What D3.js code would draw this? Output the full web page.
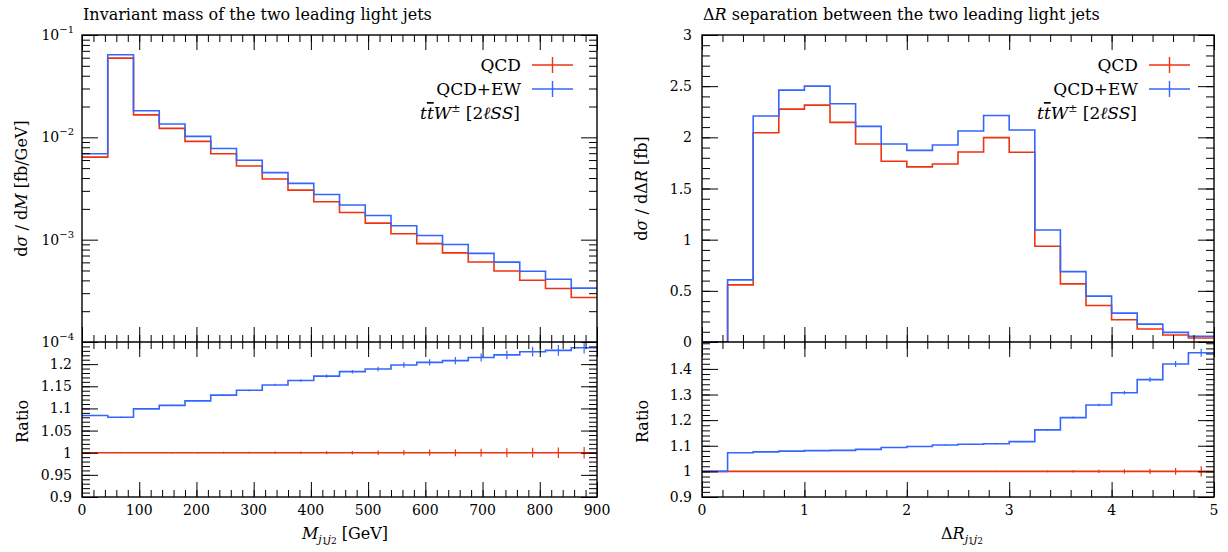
<!DOCTYPE html>
<html>
<head>
<meta charset="utf-8">
<script src="https://cdn.jsdelivr.net/npm/d3@7"></script>
<style>
  body { margin: 0; background: #fff; }
  svg text { font-family: "DejaVu Serif", "Liberation Serif", serif; fill: #000; }
  .tick line { stroke: #000; stroke-width: 1; }
  .bar { text-decoration: overline; }
</style>
</head>
<body>
<svg id="chart" width="1228" height="552"></svg>
<script>
// ---- data: invariant mass of the two leading light jets ----
const massEdges = [0, 45, 90, 135, 180, 225, 270, 315, 360, 405, 450, 495, 540, 585, 630, 675, 720, 765, 810, 855, 900];
const massQCD = [0.0064, 0.0594, 0.01656, 0.01222, 0.00914, 0.0069, 0.00524, 0.00392, 0.00305, 0.00235,
                 0.00184, 0.00145, 0.001143, 0.000914, 0.000743, 0.000604, 0.000494, 0.000401, 0.000333, 0.000272];
const massQCDEW = [0.0069, 0.0641, 0.0182, 0.01352, 0.01021, 0.00779, 0.00598, 0.00452, 0.00355, 0.00276,
                   0.00218, 0.00172, 0.001369, 0.0011, 0.000898, 0.000734, 0.000603, 0.000492, 0.00041, 0.000336];
const massRatioEW = [1.084, 1.080, 1.099, 1.107, 1.117, 1.130, 1.141, 1.153, 1.163, 1.173,
                     1.183, 1.189, 1.198, 1.204, 1.208, 1.215, 1.221, 1.228, 1.231, 1.237];
const massErrQCD = [0.001, 0.001, 0.001, 0.0015, 0.0015, 0.002, 0.002, 0.0025, 0.003, 0.0035,
                    0.004, 0.005, 0.006, 0.007, 0.008, 0.009, 0.010, 0.011, 0.012, 0.013];
const massErrEW = [0.001, 0.001, 0.001, 0.0015, 0.0015, 0.002, 0.002, 0.0025, 0.003, 0.0035,
                   0.004, 0.005, 0.006, 0.007, 0.008, 0.009, 0.010, 0.011, 0.012, 0.013];

// ---- data: Delta R separation between the two leading light jets ----
const drEdges = [0, 0.25, 0.5, 0.75, 1, 1.25, 1.5, 1.75, 2, 2.25, 2.5, 2.75, 3, 3.25, 3.5, 3.75, 4, 4.25, 4.5, 4.75, 5];
const drQCD = [0, 0.558, 2.045, 2.276, 2.315, 2.146, 1.935, 1.766, 1.711, 1.740,
               1.857, 1.997, 1.854, 0.935, 0.568, 0.357, 0.218, 0.127, 0.068, 0.039];
const drQCDEW = [0, 0.607, 2.208, 2.461, 2.500, 2.328, 2.107, 1.935, 1.873, 1.925,
                 2.062, 2.214, 2.071, 1.094, 0.688, 0.448, 0.282, 0.175, 0.094, 0.056];
const drRatioEW = [1, 1.073, 1.076, 1.079, 1.081, 1.082, 1.086, 1.093, 1.097, 1.103,
                   1.106, 1.108, 1.116, 1.162, 1.210, 1.259, 1.307, 1.358, 1.419, 1.463];
const drErrQCD = [0, 0.001, 0.001, 0.001, 0.001, 0.001, 0.001, 0.001, 0.001, 0.0015,
                  0.0015, 0.002, 0.002, 0.003, 0.004, 0.006, 0.008, 0.010, 0.013, 0.020];
const drErrEW = [0, 0.001, 0.001, 0.001, 0.001, 0.001, 0.001, 0.001, 0.001, 0.0015,
                 0.0015, 0.002, 0.002, 0.003, 0.004, 0.005, 0.007, 0.009, 0.012, 0.016];

// ---- ticks ----
const massTicks = [0, 100, 200, 300, 400, 500, 600, 700, 800, 900];
const massDecades = [-4, -3, -2, -1];
const massRatioTicks = [0.9, 0.95, 1, 1.05, 1.1, 1.15, 1.2];
const drTicks = [0, 1, 2, 3, 4, 5];
const drMainTicks = [0, 0.5, 1, 1.5, 2, 2.5, 3];
const drRatioTicks = [0.9, 1, 1.1, 1.2, 1.3, 1.4];

const red = "#ee3311";
const blue = "#3366ff";

const svg = d3.select("#chart");
const plotTop = 35, split = 342, plotBottom = 497;
const majorLen = 15, minorLen = 7;

function minorsBetween(lo, hi, step) {
  const out = [];
  for (let v = lo; v <= hi + 1e-9; v += step) out.push(+v.toFixed(6));
  return out;
}

// draw inside ticks on one edge with a d3 axis, no labels
function edgeTicks(g, axisFn, scale, values, len, transform) {
  g.append("g")
    .attr("transform", transform)
    .call(axisFn(scale).tickValues(values).tickSize(-len).tickFormat(""))
    .call(a => a.select(".domain").remove());
}

function stepPath(edges, vals, x, y) {
  const pts = vals.map((v, i) => [edges[i], v]);
  pts.push([edges[edges.length - 1], vals[vals.length - 1]]);
  return d3.line().x(d => x(d[0])).y(d => y(d[1])).curve(d3.curveStepAfter)(pts);
}

function drawPanel(o) {
  const g = svg.append("g");
  const x = d3.scaleLinear().domain(o.xDomain).range([o.left, o.right]);
  const y = o.log
    ? d3.scaleLog().domain(o.yDomain).range([split, plotTop])
    : d3.scaleLinear().domain(o.yDomain).range([split, plotTop]);
  const r = d3.scaleLinear().domain(o.rDomain).range([plotBottom, split]);

  const clipId = "clip" + o.id;
  const defs = g.append("defs");
  defs.append("clipPath").attr("id", clipId + "m")
    .append("rect").attr("x", o.left).attr("y", plotTop).attr("width", o.right - o.left).attr("height", split - plotTop);
  defs.append("clipPath").attr("id", clipId + "r")
    .append("rect").attr("x", o.left).attr("y", split).attr("width", o.right - o.left).attr("height", plotBottom - split);

  // main histograms
  const main = g.append("g").attr("clip-path", `url(#${clipId}m)`);
  [[o.qcd, red], [o.ew, blue]].forEach(([vals, col]) => {
    main.append("path")
      .attr("d", stepPath(o.edges, vals, x, y))
      .attr("fill", "none").attr("stroke", col).attr("stroke-width", 1.6);
  });

  // ratio
  const rat = g.append("g").attr("clip-path", `url(#${clipId}r)`);
  const ones = o.qcd.map(() => 1);
  [[ones, o.errQCD, red], [o.ratio, o.errEW, blue]].forEach(([vals, errs, col]) => {
    rat.append("path")
      .attr("d", stepPath(o.edges, vals, x, r))
      .attr("fill", "none").attr("stroke", col).attr("stroke-width", 1.6);
    rat.selectAll(null)
      .data(vals.map((v, i) => ({ v, e: errs[i], c: (o.edges[i] + o.edges[i + 1]) / 2 })).filter(d => d.e > 0))
      .enter().append("line")
      .attr("x1", d => x(d.c)).attr("x2", d => x(d.c))
      .attr("y1", d => r(d.v - d.e)).attr("y2", d => r(d.v + d.e))
      .attr("stroke", col).attr("stroke-width", 1.2);
  });

  // x ticks on top, split (both ways) and bottom
  const xMinor = minorsBetween(o.xDomain[0], o.xDomain[1], o.xMinorStep);
  edgeTicks(g, d3.axisTop, x, xMinor, minorLen, `translate(0,${plotTop})`);
  edgeTicks(g, d3.axisTop, x, o.xTicks, majorLen, `translate(0,${plotTop})`);
  edgeTicks(g, d3.axisBottom, x, xMinor, minorLen, `translate(0,${split})`);
  edgeTicks(g, d3.axisBottom, x, o.xTicks, majorLen, `translate(0,${split})`);
  edgeTicks(g, d3.axisTop, x, xMinor, minorLen, `translate(0,${split})`);
  edgeTicks(g, d3.axisTop, x, o.xTicks, majorLen, `translate(0,${split})`);
  edgeTicks(g, d3.axisBottom, x, xMinor, minorLen, `translate(0,${plotBottom})`);
  edgeTicks(g, d3.axisBottom, x, o.xTicks, majorLen, `translate(0,${plotBottom})`);

  // main y ticks
  edgeTicks(g, d3.axisLeft, y, o.yMinor, minorLen + 1, `translate(${o.left},0)`);
  edgeTicks(g, d3.axisLeft, y, o.yTicks, majorLen + 1, `translate(${o.left},0)`);
  edgeTicks(g, d3.axisRight, y, o.yMinor, minorLen + 1, `translate(${o.right},0)`);
  edgeTicks(g, d3.axisRight, y, o.yTicks, majorLen + 1, `translate(${o.right},0)`);

  // ratio y ticks
  const rMinor = minorsBetween(o.rDomain[0], o.rDomain[1], o.rMinorStep);
  edgeTicks(g, d3.axisLeft, r, rMinor, minorLen + 1, `translate(${o.left},0)`);
  edgeTicks(g, d3.axisLeft, r, o.rTicks, majorLen + 1, `translate(${o.left},0)`);
  edgeTicks(g, d3.axisRight, r, rMinor, minorLen + 1, `translate(${o.right},0)`);
  edgeTicks(g, d3.axisRight, r, o.rTicks, majorLen + 1, `translate(${o.right},0)`);

  // frames
  g.append("rect").attr("x", o.left).attr("y", plotTop).attr("width", o.right - o.left).attr("height", plotBottom - plotTop)
    .attr("fill", "none").attr("stroke", "#000").attr("stroke-width", 1.4);
  g.append("line").attr("x1", o.left).attr("x2", o.right).attr("y1", split).attr("y2", split)
    .attr("stroke", "#000").attr("stroke-width", 1.4);

  // tick labels
  g.selectAll(null).data(o.xTicks).enter().append("text")
    .attr("x", d => x(d)).attr("y", 515).attr("text-anchor", "middle")
    .attr("font-size", 14).text(d => d);
  if (o.log) {
    o.decades.forEach(k => {
      const t = g.append("text").attr("x", o.left - 8).attr("y", y(Math.pow(10, k)) + 5)
        .attr("text-anchor", "end").attr("font-size", 14);
      t.append("tspan").text("10");
      t.append("tspan").attr("dy", -7).attr("font-size", 10).text("\u2212" + (-k));
    });
  } else {
    g.selectAll(null).data(o.yTicks).enter().append("text")
      .attr("x", o.left - 10).attr("y", d => y(d) + 5).attr("text-anchor", "end")
      .attr("font-size", 14).text(d => d);
  }
  g.selectAll(null).data(o.rTicks).enter().append("text")
    .attr("x", o.left - 10).attr("y", d => r(d) + 5).attr("text-anchor", "end")
    .attr("font-size", 14).text(d => d);

  // title
  g.append("text").attr("x", o.left + 1).attr("y", 20).attr("font-size", 16).html(o.title);

  // axis titles
  g.append("text").attr("transform", `translate(${o.left - 55},${(plotTop + split) / 2}) rotate(-90)`)
    .attr("text-anchor", "middle").attr("font-size", 16).html(o.yTitle);
  g.append("text").attr("transform", `translate(${o.left - 54},${(split + plotBottom) / 2 + 2}) rotate(-90)`)
    .attr("text-anchor", "middle").attr("font-size", 16).text("Ratio");
  g.append("text").attr("x", o.xTitleX).attr("y", 539).attr("text-anchor", "middle")
    .attr("font-size", 16).html(o.xTitle);

  // legend
  const lx = o.right - 65;
  [["QCD", red, 65], ["QCD+EW", blue, 89]].forEach(([name, col, ly]) => {
    g.append("text").attr("x", lx - 11).attr("y", ly + 6).attr("text-anchor", "end")
      .attr("font-size", 17).text(name);
    g.append("line").attr("x1", lx).attr("x2", lx + 41).attr("y1", ly).attr("y2", ly)
      .attr("stroke", col).attr("stroke-width", 1.6);
    g.append("line").attr("x1", lx + 20.5).attr("x2", lx + 20.5).attr("y1", ly - 8).attr("y2", ly + 8)
      .attr("stroke", col).attr("stroke-width", 1.4);
  });
  g.append("text").attr("x", lx - 12).attr("y", 119).attr("text-anchor", "end").attr("font-size", 17)
    .html('<tspan font-style="italic">t</tspan><tspan font-style="italic" class="bar">t</tspan>' +
          '<tspan font-style="italic">W</tspan><tspan dy="-7" font-size="11">\u00b1</tspan>' +
          '<tspan dy="7"> [2</tspan><tspan font-style="italic">\u2113SS</tspan><tspan>]</tspan>');
}

drawPanel({
  id: "m", left: 82, right: 597,
  edges: massEdges, qcd: massQCD, ew: massQCDEW, ratio: massRatioEW,
  errQCD: massErrQCD, errEW: massErrEW,
  xDomain: [0, 900], xTicks: massTicks, xMinorStep: 20,
  log: true, yDomain: [1e-4, 1e-1], decades: massDecades,
  yTicks: massDecades.map(k => Math.pow(10, k)),
  yMinor: [-4, -3, -2].flatMap(k => [2, 3, 4, 5, 6, 7, 8, 9].map(m => m * Math.pow(10, k))),
  rDomain: [0.9, 1.25], rTicks: massRatioTicks, rMinorStep: 0.01,
  title: "Invariant mass of the two leading light jets",
  yTitle: 'd<tspan font-style="italic">\u03c3</tspan> / d<tspan font-style="italic">M</tspan> [fb/GeV]',
  xTitle: '<tspan font-style="italic">M</tspan><tspan font-style="italic" font-size="11" dy="4">j</tspan><tspan font-size="9" dy="1">1</tspan><tspan font-style="italic" font-size="11" dy="-1">j</tspan><tspan font-size="9" dy="1">2</tspan><tspan dy="-5"> [GeV]</tspan>',
  xTitleX: 345
});

drawPanel({
  id: "r", left: 702, right: 1214,
  edges: drEdges, qcd: drQCD, ew: drQCDEW, ratio: drRatioEW,
  errQCD: drErrQCD, errEW: drErrEW,
  xDomain: [0, 5], xTicks: drTicks, xMinorStep: 0.2,
  log: false, yDomain: [0, 3], yTicks: drMainTicks,
  yMinor: minorsBetween(0, 3, 0.1),
  rDomain: [0.9, 1.505], rTicks: drRatioTicks, rMinorStep: 0.02,
  title: "\u0394<tspan font-style=\"italic\">R</tspan> separation between the two leading light jets",
  yTitle: 'd<tspan font-style="italic">\u03c3</tspan> / d\u0394<tspan font-style="italic">R</tspan> [fb]',
  xTitle: '\u0394<tspan font-style="italic">R</tspan><tspan font-style="italic" font-size="11" dy="4">j</tspan><tspan font-size="9" dy="1">1</tspan><tspan font-style="italic" font-size="11" dy="-1">j</tspan><tspan font-size="9" dy="1">2</tspan>',
  xTitleX: 962
});
</script>
</body>
</html>
